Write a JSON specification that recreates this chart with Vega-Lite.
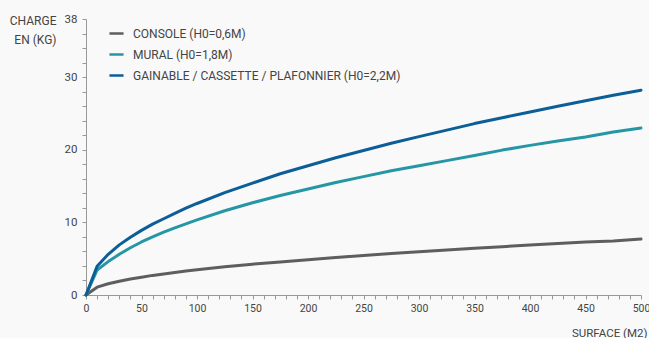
{
  "$schema": "https://vega.github.io/schema/vega-lite/v6.json",
  "width": 555,
  "height": 276,
  "autosize": "none",
  "padding": {"left": 86, "top": 19, "right": 8, "bottom": 43},
  "background": "#f9f9f9",
  "config": {
    "view": {"stroke": null},
    "font": "Roboto",
    "axis": {"labelFont": "Roboto", "titleFont": "Roboto", "labelColor": "#444", "titleColor": "#444", "domainColor": "#999", "tickColor": "#999", "grid": false, "titleFontWeight": "normal"}
  },
  "data": {"values": [
    {"s": 0, "k": 0, "t": "CONSOLE (H0=0,6M)"},
    {"s": 10, "k": 1.08, "t": "CONSOLE (H0=0,6M)"},
    {"s": 20, "k": 1.55, "t": "CONSOLE (H0=0,6M)"},
    {"s": 30, "k": 1.9, "t": "CONSOLE (H0=0,6M)"},
    {"s": 40, "k": 2.2, "t": "CONSOLE (H0=0,6M)"},
    {"s": 50, "k": 2.45, "t": "CONSOLE (H0=0,6M)"},
    {"s": 60, "k": 2.7, "t": "CONSOLE (H0=0,6M)"},
    {"s": 70, "k": 2.9, "t": "CONSOLE (H0=0,6M)"},
    {"s": 80, "k": 3.1, "t": "CONSOLE (H0=0,6M)"},
    {"s": 90, "k": 3.3, "t": "CONSOLE (H0=0,6M)"},
    {"s": 100, "k": 3.47, "t": "CONSOLE (H0=0,6M)"},
    {"s": 125, "k": 3.9, "t": "CONSOLE (H0=0,6M)"},
    {"s": 150, "k": 4.25, "t": "CONSOLE (H0=0,6M)"},
    {"s": 175, "k": 4.55, "t": "CONSOLE (H0=0,6M)"},
    {"s": 200, "k": 4.85, "t": "CONSOLE (H0=0,6M)"},
    {"s": 225, "k": 5.15, "t": "CONSOLE (H0=0,6M)"},
    {"s": 250, "k": 5.45, "t": "CONSOLE (H0=0,6M)"},
    {"s": 275, "k": 5.7, "t": "CONSOLE (H0=0,6M)"},
    {"s": 300, "k": 5.95, "t": "CONSOLE (H0=0,6M)"},
    {"s": 325, "k": 6.2, "t": "CONSOLE (H0=0,6M)"},
    {"s": 350, "k": 6.45, "t": "CONSOLE (H0=0,6M)"},
    {"s": 375, "k": 6.65, "t": "CONSOLE (H0=0,6M)"},
    {"s": 400, "k": 6.9, "t": "CONSOLE (H0=0,6M)"},
    {"s": 425, "k": 7.1, "t": "CONSOLE (H0=0,6M)"},
    {"s": 450, "k": 7.3, "t": "CONSOLE (H0=0,6M)"},
    {"s": 475, "k": 7.45, "t": "CONSOLE (H0=0,6M)"},
    {"s": 500, "k": 7.7, "t": "CONSOLE (H0=0,6M)"},
    {"s": 0, "k": 0, "t": "MURAL (H0=1,8M)"},
    {"s": 10, "k": 3.45, "t": "MURAL (H0=1,8M)"},
    {"s": 20, "k": 4.6, "t": "MURAL (H0=1,8M)"},
    {"s": 30, "k": 5.6, "t": "MURAL (H0=1,8M)"},
    {"s": 40, "k": 6.5, "t": "MURAL (H0=1,8M)"},
    {"s": 50, "k": 7.3, "t": "MURAL (H0=1,8M)"},
    {"s": 60, "k": 8.0, "t": "MURAL (H0=1,8M)"},
    {"s": 70, "k": 8.65, "t": "MURAL (H0=1,8M)"},
    {"s": 80, "k": 9.25, "t": "MURAL (H0=1,8M)"},
    {"s": 90, "k": 9.8, "t": "MURAL (H0=1,8M)"},
    {"s": 100, "k": 10.35, "t": "MURAL (H0=1,8M)"},
    {"s": 125, "k": 11.6, "t": "MURAL (H0=1,8M)"},
    {"s": 150, "k": 12.7, "t": "MURAL (H0=1,8M)"},
    {"s": 175, "k": 13.7, "t": "MURAL (H0=1,8M)"},
    {"s": 200, "k": 14.6, "t": "MURAL (H0=1,8M)"},
    {"s": 225, "k": 15.5, "t": "MURAL (H0=1,8M)"},
    {"s": 250, "k": 16.3, "t": "MURAL (H0=1,8M)"},
    {"s": 275, "k": 17.1, "t": "MURAL (H0=1,8M)"},
    {"s": 300, "k": 17.8, "t": "MURAL (H0=1,8M)"},
    {"s": 325, "k": 18.5, "t": "MURAL (H0=1,8M)"},
    {"s": 350, "k": 19.2, "t": "MURAL (H0=1,8M)"},
    {"s": 375, "k": 19.95, "t": "MURAL (H0=1,8M)"},
    {"s": 400, "k": 20.6, "t": "MURAL (H0=1,8M)"},
    {"s": 425, "k": 21.2, "t": "MURAL (H0=1,8M)"},
    {"s": 450, "k": 21.75, "t": "MURAL (H0=1,8M)"},
    {"s": 475, "k": 22.45, "t": "MURAL (H0=1,8M)"},
    {"s": 500, "k": 23.0, "t": "MURAL (H0=1,8M)"},
    {"s": 0, "k": 0, "t": "GAINABLE / CASSETTE / PLAFONNIER (H0=2,2M)"},
    {"s": 10, "k": 3.95, "t": "GAINABLE / CASSETTE / PLAFONNIER (H0=2,2M)"},
    {"s": 20, "k": 5.6, "t": "GAINABLE / CASSETTE / PLAFONNIER (H0=2,2M)"},
    {"s": 30, "k": 6.9, "t": "GAINABLE / CASSETTE / PLAFONNIER (H0=2,2M)"},
    {"s": 40, "k": 7.95, "t": "GAINABLE / CASSETTE / PLAFONNIER (H0=2,2M)"},
    {"s": 50, "k": 8.9, "t": "GAINABLE / CASSETTE / PLAFONNIER (H0=2,2M)"},
    {"s": 60, "k": 9.75, "t": "GAINABLE / CASSETTE / PLAFONNIER (H0=2,2M)"},
    {"s": 70, "k": 10.5, "t": "GAINABLE / CASSETTE / PLAFONNIER (H0=2,2M)"},
    {"s": 80, "k": 11.25, "t": "GAINABLE / CASSETTE / PLAFONNIER (H0=2,2M)"},
    {"s": 90, "k": 11.95, "t": "GAINABLE / CASSETTE / PLAFONNIER (H0=2,2M)"},
    {"s": 100, "k": 12.6, "t": "GAINABLE / CASSETTE / PLAFONNIER (H0=2,2M)"},
    {"s": 125, "k": 14.1, "t": "GAINABLE / CASSETTE / PLAFONNIER (H0=2,2M)"},
    {"s": 150, "k": 15.4, "t": "GAINABLE / CASSETTE / PLAFONNIER (H0=2,2M)"},
    {"s": 175, "k": 16.7, "t": "GAINABLE / CASSETTE / PLAFONNIER (H0=2,2M)"},
    {"s": 200, "k": 17.8, "t": "GAINABLE / CASSETTE / PLAFONNIER (H0=2,2M)"},
    {"s": 225, "k": 18.9, "t": "GAINABLE / CASSETTE / PLAFONNIER (H0=2,2M)"},
    {"s": 250, "k": 19.9, "t": "GAINABLE / CASSETTE / PLAFONNIER (H0=2,2M)"},
    {"s": 275, "k": 20.9, "t": "GAINABLE / CASSETTE / PLAFONNIER (H0=2,2M)"},
    {"s": 300, "k": 21.8, "t": "GAINABLE / CASSETTE / PLAFONNIER (H0=2,2M)"},
    {"s": 325, "k": 22.7, "t": "GAINABLE / CASSETTE / PLAFONNIER (H0=2,2M)"},
    {"s": 350, "k": 23.6, "t": "GAINABLE / CASSETTE / PLAFONNIER (H0=2,2M)"},
    {"s": 375, "k": 24.4, "t": "GAINABLE / CASSETTE / PLAFONNIER (H0=2,2M)"},
    {"s": 400, "k": 25.2, "t": "GAINABLE / CASSETTE / PLAFONNIER (H0=2,2M)"},
    {"s": 425, "k": 26.0, "t": "GAINABLE / CASSETTE / PLAFONNIER (H0=2,2M)"},
    {"s": 450, "k": 26.75, "t": "GAINABLE / CASSETTE / PLAFONNIER (H0=2,2M)"},
    {"s": 475, "k": 27.5, "t": "GAINABLE / CASSETTE / PLAFONNIER (H0=2,2M)"},
    {"s": 500, "k": 28.2, "t": "GAINABLE / CASSETTE / PLAFONNIER (H0=2,2M)"}
  ]},
  "mark": {"type": "line", "strokeWidth": 3, "strokeCap": "round", "strokeJoin": "round"},
  "encoding": {
    "x": {
      "field": "s", "type": "quantitative",
      "scale": {"domain": [0, 500], "nice": false, "zero": true},
      "axis": {
        "values": [0,10,20,30,40,50,60,70,80,90,100,110,120,130,140,150,160,170,180,190,200,210,220,230,240,250,260,270,280,290,300,310,320,330,340,350,360,370,380,390,400,410,420,430,440,450,460,470,480,490,500],
        "labelExpr": "datum.value % 50 === 0 ? datum.label : ''",
        "labelFontSize": 10.5, "tickSize": 4, "labelPadding": 4, "labelFlush": false, "labelOverlap": false,
        "title": "SURFACE (M2)", "titleFontSize": 11.5, "titleAlign": "right", "titleAnchor": "end",
        "titleX": 561, "titleY": 38, "titleBaseline": "middle"
      }
    },
    "y": {
      "field": "k", "type": "quantitative",
      "scale": {"domain": [0, 38], "nice": false},
      "axis": {
        "values": [0,2,4,6,8,10,12,14,16,18,20,22,24,26,28,30,32,34,36,38],
        "labelExpr": "(datum.value % 10 === 0 || datum.value === 38) ? datum.label : ''",
        "labelFontSize": 11.5, "tickSize": 4, "labelPadding": 5, "labelOverlap": false, "labelFlush": false,
        "title": ["CHARGE", "EN (KG)"], "titleFontSize": 12, "titleAngle": 0, "titleAlign": "right",
        "titleX": -30, "titleY": -4, "titleBaseline": "top", "titleLineHeight": 19
      }
    },
    "color": {
      "field": "t", "type": "nominal",
      "scale": {
        "domain": ["CONSOLE (H0=0,6M)", "MURAL (H0=1,8M)", "GAINABLE / CASSETTE / PLAFONNIER (H0=2,2M)"],
        "range": ["#5e5e5e", "#2596a5", "#0b5e97"]
      },
      "legend": {
        "orient": "none", "legendX": 22, "legendY": 6, "title": null,
        "symbolType": "stroke", "symbolStrokeWidth": 2.5, "symbolSize": 200,
        "labelFontSize": 12, "labelColor": "#444", "labelFont": "Roboto", "labelLimit": 0,
        "rowPadding": 6, "labelOffset": 8
      }
    }
  }
}
